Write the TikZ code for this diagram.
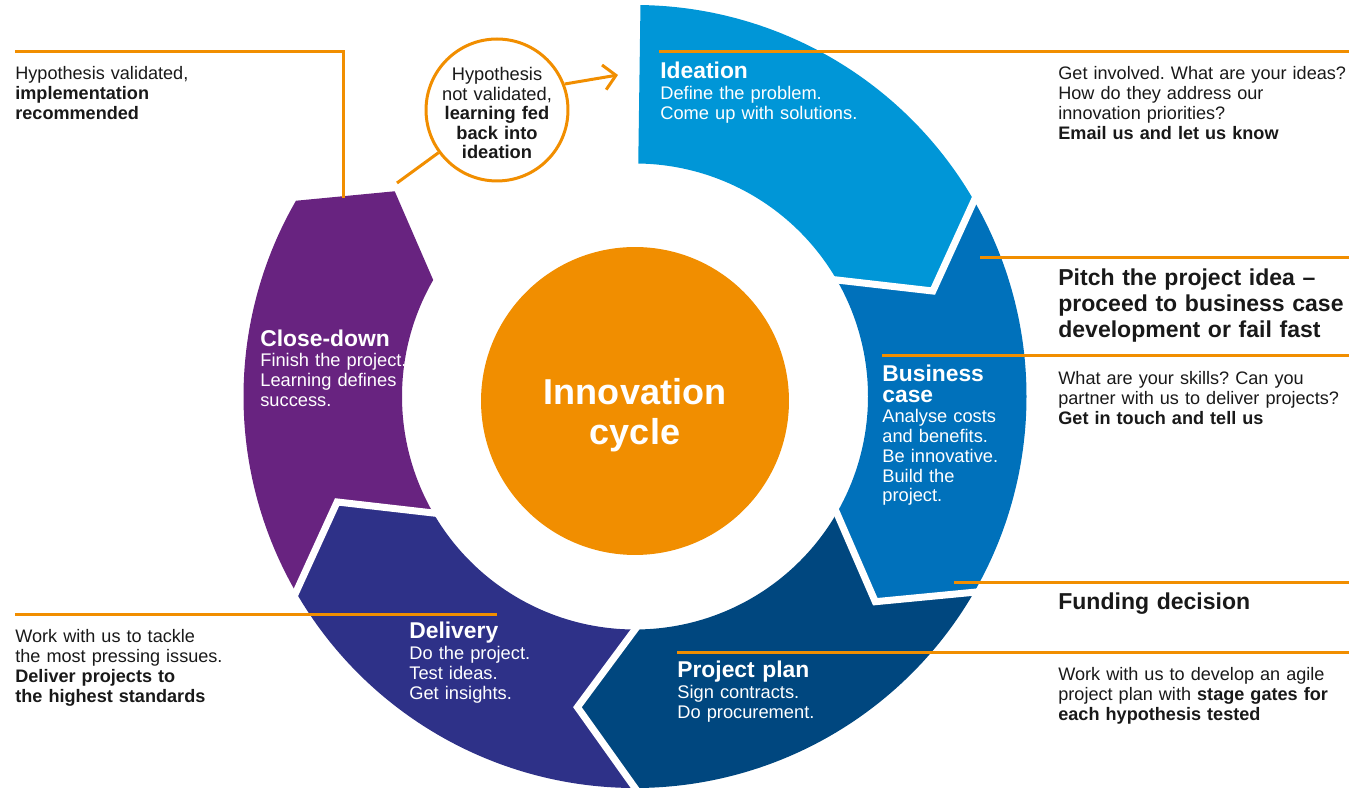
\documentclass[tikz,border=0pt]{standalone}
\usepackage{fontspec}
\setmainfont{Liberation Sans}
\usetikzlibrary{arrows.meta}
\definecolor{ideaC}{RGB}{0,150,215}
\definecolor{busC}{RGB}{0,113,187}
\definecolor{projC}{RGB}{0,71,127}
\definecolor{delC}{RGB}{46,49,136}
\definecolor{closeC}{RGB}{104,35,128}
\definecolor{orangeC}{RGB}{241,142,0}
\definecolor{inkC}{RGB}{25,25,25}
\def\ringO{391.5}
\def\ringI{233}
\def\ringT{316}
\begin{document}
\frenchspacing
\begin{tikzpicture}[x=0.02cm, y=0.02cm,
  lead/.style={draw=orangeC, line width=0.06cm},
  gapline/.style={draw=white, line width=0.14cm, line join=miter, shorten <=-0.3cm, shorten >=-0.3cm},
  sidetxt/.style={inner sep=0, anchor=base west, align=left, text width=7.5cm, text=inkC, font=\frenchspacing\fontsize{10.3}{11.2}\selectfont},
  bigtxt/.style={inner sep=0, anchor=base west, align=left, text width=7.5cm, text=inkC, font=\frenchspacing\fontsize{13.1}{14.75}\selectfont\bfseries},
  segtitle/.style={inner sep=0, anchor=base west, align=left, text width=4.5cm, text=white, font=\frenchspacing\fontsize{13}{11.9}\selectfont\bfseries},
  segbody/.style={inner sep=0, anchor=base west, align=left, text width=4.5cm, text=white, font=\frenchspacing\fontsize{10.4}{11.2}\selectfont}
]
\useasboundingbox (0,0) rectangle (1349,790);

% ring segments
\begin{scope}[shift={(635,393.5)}]
  \fill[ideaC] (89.2:\ringO) arc[start angle=89.2, end angle=30, radius=\ringO] -- (19.5:\ringT) -- (30:\ringI) arc[start angle=30, end angle=89.2, radius=\ringI] -- cycle;
  \fill[busC] (30:\ringO) arc[start angle=30, end angle=-30, radius=\ringO] -- (-40.5:\ringT) -- (-30:\ringI) arc[start angle=-30, end angle=30, radius=\ringI] -- (19.5:\ringT) -- cycle;
  \fill[projC] (-30:\ringO) arc[start angle=-30, end angle=-90, radius=\ringO] -- (-100.5:\ringT) -- (-90:\ringI) arc[start angle=-90, end angle=-30, radius=\ringI] -- (-40.5:\ringT) -- cycle;
  \fill[delC] (-90:\ringO) arc[start angle=-90, end angle=-150, radius=\ringO] -- (-160.5:\ringT) -- (-150:\ringI) arc[start angle=-150, end angle=-90, radius=\ringI] -- (-100.5:\ringT) -- cycle;
  \fill[closeC] (-150:\ringO) arc[start angle=-150, end angle=-210, radius=\ringO] -- (-220.5:\ringT) -- (-210:\ringI) arc[start angle=-210, end angle=-150, radius=\ringI] -- (-160.5:\ringT) -- cycle;
  \foreach \b in {30,-30,-90,-150}{
    \draw[gapline] (\b:\ringO) -- ({\b-10.5}:\ringT) -- (\b:\ringI);
  }
\end{scope}

% centre
\node[circle, fill=orangeC, minimum size=6.16cm, inner sep=0] (core) at (635,389) {};
\node[inner sep=0, anchor=base, align=center, text width=6cm, text=white, font=\fontsize{20.5}{22.7}\selectfont\bfseries] (coretxt) at (635,385) {Innovation\\cycle};

% leader lines
\coordinate (l1a) at (15,738);
\coordinate (l1b) at (343,738);
\coordinate (l1c) at (343,592);
\coordinate (l2a) at (659,738);
\coordinate (l2b) at (1349,738);
\coordinate (l3a) at (980,532);
\coordinate (l3b) at (1349,532);
\coordinate (l4a) at (882,434);
\coordinate (l4b) at (1349,434);
\coordinate (l5a) at (954,207);
\coordinate (l5b) at (1349,207);
\coordinate (l6a) at (677,137);
\coordinate (l6b) at (1349,137);
\coordinate (l7a) at (15,175);
\coordinate (l7b) at (497,175);
\draw[lead] (l1a) -- (l1b) -- (l1c);
\draw[lead] (l2a) -- (l2b);
\draw[lead] (l3a) -- (l3b);
\draw[lead] (l4a) -- (l4b);
\draw[lead] (l5a) -- (l5b);
\draw[lead] (l6a) -- (l6b);
\draw[lead] (l7a) -- (l7b);

% hypothesis circle
\node[circle, draw=orangeC, line width=0.06cm, fill=white, minimum size=2.84cm, inner sep=0] (hyp) at (497,680) {};
\node[inner sep=0, anchor=base, align=center, text width=3cm, text=inkC, font=\frenchspacing\fontsize{10.4}{11.1}\selectfont] (hyptxt) at (497,709) {Hypothesis\\not validated,\\\textbf{learning fed}\\\textbf{back into}\\\textbf{ideation}};
\coordinate (hypfrom) at (397,607);
\coordinate (ideaarrow) at (618,715);
\draw[lead] (hypfrom) -- (hyp);
\draw[lead, -{Straight Barb[length=0.24cm, width=0.5cm]}] (hyp.21) -- (ideaarrow);

% segment texts
\node[segtitle] (ideaT) at (660,711) {Ideation};
\node[segbody] (ideaB) at (660,690) {Define the problem.\\Come up with solutions.};
\node[segtitle] (busT) at (882,408) {Business\\case};
\node[segbody] (busB) at (882,367) {Analyse costs\\and benefits.\\Be innovative.\\Build the\\project.};
\node[segtitle] (projT) at (677,112) {Project plan};
\node[segbody] (projB) at (677,91) {Sign contracts.\\Do procurement.};
\node[segtitle] (delT) at (409,151) {Delivery};
\node[segbody] (delB) at (409,130) {Do the project.\\Test ideas.\\Get insights.};
\node[segtitle] (closeT) at (260,443) {Close-down};
\node[segbody] (closeB) at (260,423) {Finish the project.\\Learning defines\\success.};

% side texts
\node[sidetxt] (hv) at (15,710) {Hypothesis validated,\\\textbf{implementation}\\\textbf{recommended}};
\node[sidetxt] (lb) at (15,147) {Work with us to tackle\\the most pressing issues.\\\textbf{Deliver projects to}\\\textbf{the highest standards}};
\node[sidetxt] (r1) at (1058,710) {Get involved. What are your ideas?\\How do they address our\\innovation priorities?\\\textbf{Email us and let us know}};
\node[bigtxt] (r2) at (1058,504) {Pitch the project idea --\\proceed to business case\\development or fail fast};
\node[sidetxt] (r3) at (1058,405) {What are your skills? Can you\\partner with us to deliver projects?\\\textbf{Get in touch and tell us}};
\node[bigtxt] (r4) at (1058,180) {Funding decision};
\node[sidetxt] (r5) at (1058,109) {Work with us to develop an agile\\project plan with \textbf{stage gates for}\\\textbf{each hypothesis tested}};
\end{tikzpicture}
\end{document}
